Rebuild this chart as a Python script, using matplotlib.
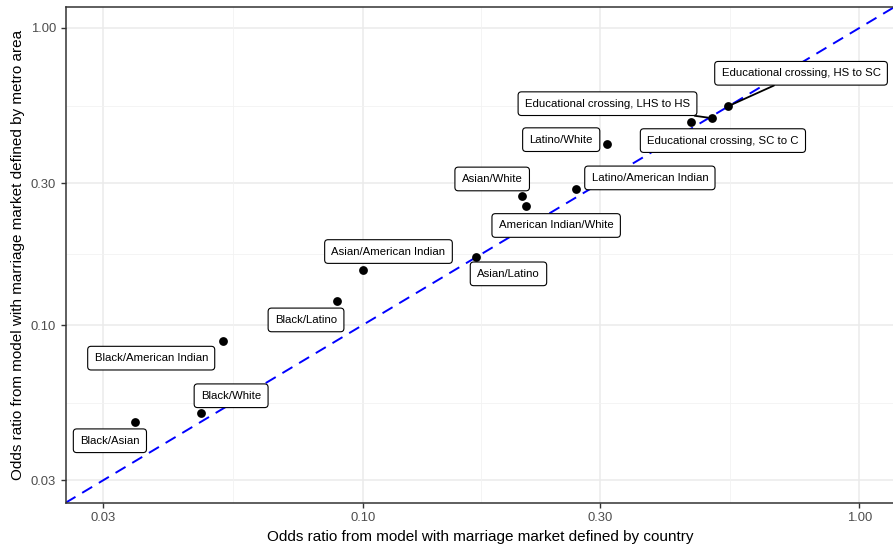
import numpy as np
import matplotlib
matplotlib.use('Agg')
import matplotlib.pyplot as plt

plt.rcParams['font.family'] = ['Liberation Sans', 'DejaVu Sans']

# Odds ratios
labels = ['Black/Asian', 'Black/White', 'Black/American Indian', 'Black/Latino',
          'Asian/American Indian', 'Asian/Latino', 'Asian/White',
          'American Indian/White', 'Latino/American Indian', 'Latino/White',
          'Educational crossing, SC to C', 'Educational crossing, LHS to HS',
          'Educational crossing, HS to SC']
or_country = [0.0348, 0.0473, 0.0524, 0.0886, 0.1004, 0.1695, 0.2095,
              0.2134, 0.2687, 0.310, 0.458, 0.505, 0.544]
or_metro = [0.0471, 0.0505, 0.0883, 0.1206, 0.1538, 0.1697, 0.272,
            0.2507, 0.2873, 0.407, 0.484, 0.497, 0.545]

major_ticks = [0.03, 0.10, 0.30, 1.00]
tick_labels = ['0.03', '0.10', '0.30', '1.00']

# label placement (pixel offsets from the point), like ggrepel output
offsets = [(-25, -18.5), (30, 17.5), (-72, -17), (-30.5, -19),
           (25, 18), (32, -17), (-30, 17), (30, -19), (74, 11),
           (-45.5, 4.3), (32, -19), (-104.5, 14.5), (73, 33)]
with_segment = ['Educational crossing, LHS to HS', 'Educational crossing, HS to SC']

fig = plt.figure(figsize=(8.93, 5.47), dpi=100)
ax = fig.add_axes([65.7 / 893, 44.3 / 547, 829.4 / 893, 496.1 / 547])
ax.set_xscale('log')
ax.set_yscale('log')
ax.set_xlim(0.02525, 1.18)
ax.set_ylim(0.02525, 1.18)

# theme_bw style grid
minor = [np.sqrt(a * b) for a, b in zip(major_ticks[:-1], major_ticks[1:])]
for v in major_ticks:
    ax.axvline(v, color='#EBEBEB', lw=1.1, zorder=0)
    ax.axhline(v, color='#EBEBEB', lw=1.1, zorder=0)
for v in minor:
    ax.axvline(v, color='#F2F2F2', lw=0.6, zorder=0)
    ax.axhline(v, color='#F2F2F2', lw=0.6, zorder=0)

# 45 degree reference line
ax.plot([0.02, 1.5], [0.02, 1.5], color='#0000FF', lw=1.4, dashes=(6, 4), zorder=1)

ax.scatter(or_country, or_metro, s=40, color='black', zorder=3, linewidths=0)

for lab, x, y, off in zip(labels, or_country, or_metro, offsets):
    arrow = None
    if lab in with_segment:
        arrow = dict(arrowstyle='-', color='black', lw=1.3, shrinkA=0, shrinkB=3)
    ax.annotate(lab, (x, y), xytext=off, textcoords='offset pixels',
                ha='center', va='center', fontsize=8.2, color='black',
                bbox=dict(boxstyle='round,pad=0.6,rounding_size=0.3',
                          fc='white', ec='black', lw=0.8),
                arrowprops=arrow, zorder=4)

ax.set_xticks(major_ticks)
ax.set_xticklabels(tick_labels)
ax.set_yticks(major_ticks)
ax.set_yticklabels(tick_labels)
ax.minorticks_off()
ax.tick_params(axis='both', length=3.5, width=1, color='#333333',
               labelcolor='#4D4D4D', labelsize=9.4, pad=3.5)
for s in ax.spines.values():
    s.set_color('#333333')
    s.set_linewidth(1.1)

ax.set_xlabel('Odds ratio from model with marriage market defined by country',
              fontsize=11, labelpad=4)
ax.set_ylabel('Odds ratio from model with marriage market defined by metro area',
              fontsize=11, labelpad=4)

fig.savefig('out.png', dpi=100)
